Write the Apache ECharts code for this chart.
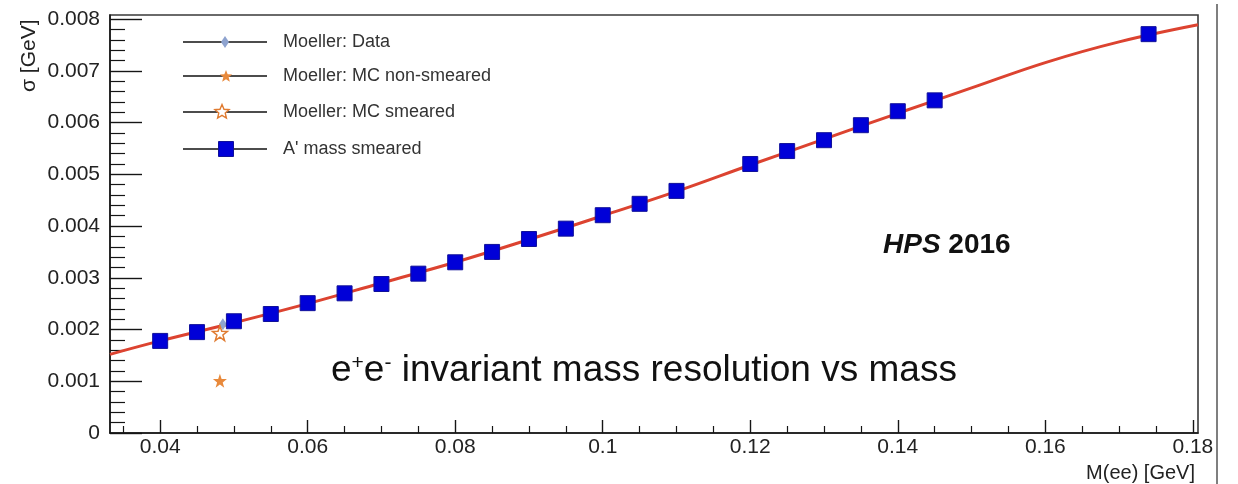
<!DOCTYPE html>
<html><head><meta charset="utf-8">
<script src="https://cdn.jsdelivr.net/npm/echarts@6/dist/echarts.min.js"></script>
<style>html,body{margin:0;padding:0;background:#fff}#c{width:1238px;height:484px}</style>
</head><body><div id="c"></div>
<script>
// ---- data ----
const aMass  = [0.04,0.045,0.05,0.055,0.06,0.065,0.07,0.075,0.08,0.085,0.09,0.095,0.1,0.105,0.11,0.12,0.125,0.13,0.135,0.14,0.145,0.174];
const aSigma = [0.00178,0.00195,0.00216,0.0023,0.00251,0.0027,0.00288,0.00308,0.0033,0.0035,0.00375,0.00395,0.00421,0.00443,0.00468,0.0052,0.00545,0.00566,0.00595,0.00622,0.00643,0.00771];
const moellerDataMass  = [0.0485];
const moellerDataSigma = [0.0021];
const mcNonSmearedMass  = [0.0481];
const mcNonSmearedSigma = [0.00101];
const mcSmearedMass  = [0.0481];
const mcSmearedSigma = [0.00193];
const fitMass  = [0.0332,0.04,0.05,0.06,0.07,0.08,0.09,0.10,0.11,0.12,0.13,0.14,0.15,0.16,0.17,0.1807];
const fitSigma = [0.00152,0.00178,0.00213,0.0025,0.0029,0.0033,0.00374,0.0042,0.00467,0.00518,0.00568,0.00618,0.00667,0.00716,0.00756,0.00789];
const xMajorTicks = [0.04,0.06,0.08,0.1,0.12,0.14,0.16,0.18];
const xMinorTicks = [0.035,0.045,0.05,0.055,0.065,0.07,0.075,0.085,0.09,0.095,0.105,0.11,0.115,0.125,0.13,0.135,0.145,0.15,0.155,0.165,0.17,0.175];
const yMajorTicks = [0,0.001,0.002,0.003,0.004,0.005,0.006,0.007,0.008];
const yMinorTicks = [0.0002,0.0004,0.0006,0.0008,0.0012,0.0014,0.0016,0.0018,0.0022,0.0024,0.0026,0.0028,0.0032,0.0034,0.0036,0.0038,0.0042,0.0044,0.0046,0.0048,0.0052,0.0054,0.0056,0.0058,0.0062,0.0064,0.0066,0.0068,0.0072,0.0074,0.0076,0.0078];
const legendNames = ['Moeller: Data','Moeller: MC non-smeared','Moeller: MC smeared',"A' mass smeared"];
const xRange = [0.0332, 0.1807];
const yRange = [0, 0.00808];

const FONT = 'Liberation Sans, Arial, sans-serif';
const zip = (a,b) => a.map((v,i)=>[v,b[i]]);
const STAR = 'path://M0,-10 L2.35,-3.24 L9.51,-3.09 L3.8,1.24 L5.88,8.09 L0,4 L-5.88,8.09 L-3.8,1.24 L-9.51,-3.09 L-2.35,-3.24 Z';

function starPts(cx, cy, R, r){
  const p=[];
  for(let i=0;i<10;i++){
    const a=-Math.PI/2+i*Math.PI/5, rr=i%2?r:R;
    p.push([cx+rr*Math.cos(a), cy+rr*Math.sin(a)]);
  }
  return p;
}

const gridRect = {left:110, top:15, width:1088, height:418};
const tickCol = '#151515';

const legendRows = [42, 76, 112, 149];
const graphics = [];
legendRows.forEach((y,i)=>{
  graphics.push({type:'line', shape:{x1:183,y1:y,x2:267,y2:y}, style:{stroke:'#111', lineWidth:1.4}, z:10});
  graphics.push({type:'text', x:283, y:y, style:{text:legendNames[i], font:'18px '+FONT, fill:'#333', textVerticalAlign:'middle'}, z:10});
});
graphics.push({type:'polygon', shape:{points:[[225,36],[229,42],[225,48],[221,42]]}, style:{fill:'#8ea3cf'}, z:11});
graphics.push({type:'polygon', shape:{points:starPts(226,76.5,6.5,2.8)}, style:{fill:'#e8893b'}, z:11});
graphics.push({type:'polygon', shape:{points:starPts(222,112,7.5,3.4)}, style:{fill:'#fff', stroke:'#e07b30', lineWidth:1.4}, z:11});
graphics.push({type:'rect', shape:{x:218.5,y:141.5,width:15,height:15}, style:{fill:'#0000d8', stroke:'#10109a', lineWidth:1}, z:11});
graphics.push({type:'text', x:331, y:371, style:{
  text:'e{sup|+}e{sup|-} invariant mass resolution vs mass',
  font:'37px '+FONT, fill:'#111', textVerticalAlign:'middle',
  rich:{sup:{fontSize:21, fontFamily:FONT, verticalAlign:'top', fill:'#111'}}
}, z:10});
graphics.push({type:'text', x:883, y:245, style:{
  text:'{it|HPS} 2016', font:'bold 28px '+FONT, fill:'#111', textVerticalAlign:'middle',
  rich:{it:{fontSize:28, fontFamily:FONT, fontWeight:'bold', fontStyle:'italic', fill:'#111'}}
}, z:10});
graphics.push({type:'text', x:1195, y:473, style:{text:'M(ee) [GeV]', font:'20px '+FONT, fill:'#222', textAlign:'right', textVerticalAlign:'middle'}, z:10});
graphics.push({type:'text', x:29, y:92, rotation:Math.PI/2, style:{text:'σ [GeV]', font:'21px '+FONT, fill:'#222', textAlign:'left', textVerticalAlign:'middle'}, z:10});
graphics.push({type:'line', shape:{x1:1217,y1:4,x2:1217,y2:484}, style:{stroke:'#555', lineWidth:1.5}, z:10});

const chart = echarts.init(document.getElementById('c'), null, {renderer:'canvas'});
chart.setOption({
  animation:false,
  backgroundColor:'#fff',
  grid:[
    Object.assign({show:true, borderColor:'#3a3a3a', borderWidth:1.6, backgroundColor:'transparent'}, gridRect),
    Object.assign({show:false}, gridRect)
  ],
  xAxis:[
    {type:'value', gridIndex:0, min:xRange[0], max:xRange[1],
     axisLine:{show:true, onZero:false, lineStyle:{color:tickCol, width:1.5}},
     axisTick:{show:true, inside:true, length:13, customValues:xMajorTicks, lineStyle:{color:tickCol, width:1.4}},
     axisLabel:{show:true, customValues:xMajorTicks, margin:4, fontSize:21, fontFamily:FONT, color:'#222', formatter:v=>String(v)},
     splitLine:{show:false}},
    {type:'value', gridIndex:1, min:xRange[0], max:xRange[1],
     axisLine:{show:false, onZero:false},
     axisTick:{show:true, inside:true, length:7, customValues:xMinorTicks, lineStyle:{color:tickCol, width:1.2}},
     axisLabel:{show:false}, splitLine:{show:false}}
  ],
  yAxis:[
    {type:'value', gridIndex:0, min:yRange[0], max:yRange[1],
     axisLine:{show:true, onZero:false, lineStyle:{color:tickCol, width:1.5}},
     axisTick:{show:true, inside:true, length:32, customValues:yMajorTicks, lineStyle:{color:tickCol, width:1.4}},
     axisLabel:{show:true, customValues:yMajorTicks, margin:10, fontSize:21, fontFamily:FONT, color:'#222', formatter:v=>String(v)},
     splitLine:{show:false}},
    {type:'value', gridIndex:1, min:yRange[0], max:yRange[1],
     axisLine:{show:false, onZero:false},
     axisTick:{show:true, inside:true, length:15, customValues:yMinorTicks, lineStyle:{color:tickCol, width:1.2}},
     axisLabel:{show:false}, splitLine:{show:false}}
  ],
  series:[
    {name:'fit', type:'line', xAxisIndex:0, yAxisIndex:0, data:zip(fitMass,fitSigma), smooth:0.4, showSymbol:false, symbol:'none',
     lineStyle:{color:'#dc4330', width:3}, clip:true, z:2},
    {name:legendNames[0], type:'scatter', data:zip(moellerDataMass,moellerDataSigma), symbol:'diamond', symbolSize:[8,12],
     itemStyle:{color:'#8ea3cf', opacity:1}, z:3},
    {name:legendNames[1], type:'scatter', data:zip(mcNonSmearedMass,mcNonSmearedSigma), symbol:STAR, symbolSize:14,
     itemStyle:{color:'#e8893b', opacity:1}, z:3},
    {name:legendNames[2], type:'scatter', data:zip(mcSmearedMass,mcSmearedSigma), symbol:STAR, symbolSize:15,
     itemStyle:{color:'#fff', borderColor:'#e07b30', borderWidth:1.5, opacity:1}, z:3},
    {name:legendNames[3], type:'scatter', data:zip(aMass,aSigma), symbol:'rect', symbolSize:15,
     itemStyle:{color:'#0000d8', borderColor:'#10109a', borderWidth:1, opacity:1}, z:4}
  ],
  graphic:graphics
});
</script></body></html>
